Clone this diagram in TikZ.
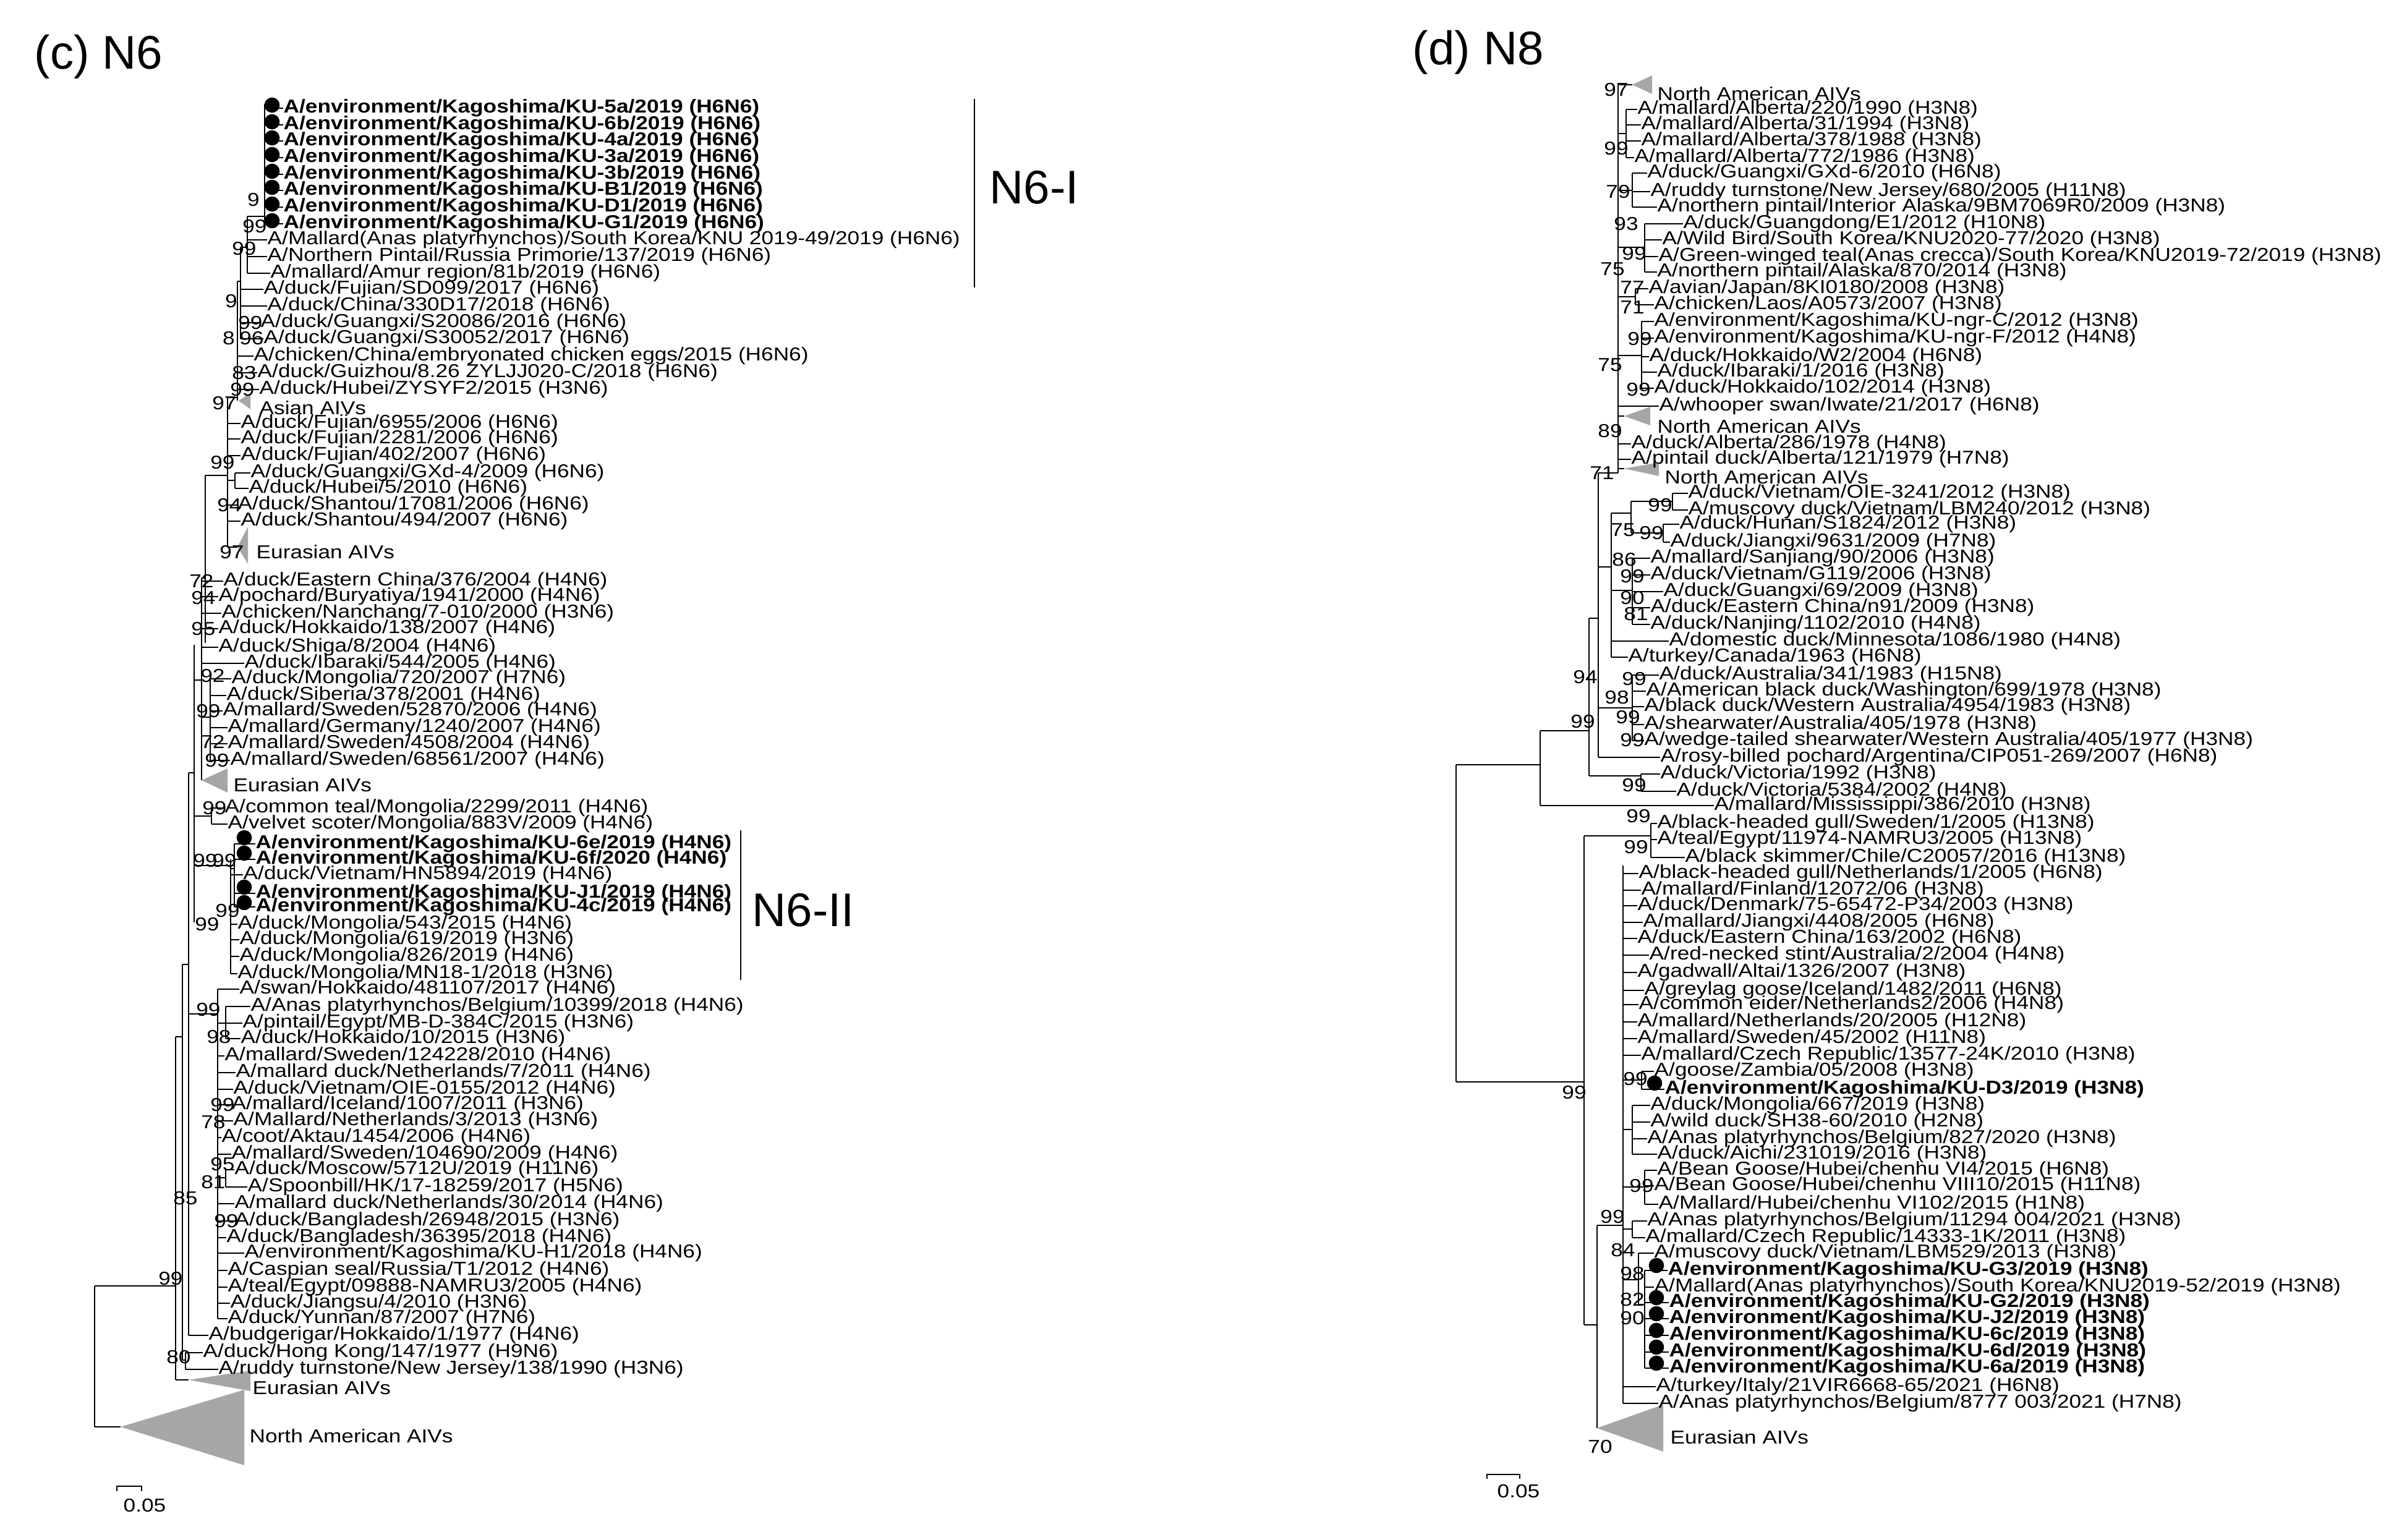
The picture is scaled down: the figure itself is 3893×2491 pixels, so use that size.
\documentclass[tikz,border=0pt]{standalone}
\usepackage{fontspec}
\setmainfont{Liberation Sans}
\newfontfamily\lbf{Liberation Sans}[FakeStretch=1.165]
\definecolor{trig}{RGB}{166,166,166}
\tikzset{
 lab/.style={font={\lbf\fontsize{8.6}{9}\selectfont}, inner sep=0pt, anchor=west},
 blab/.style={font={\lbf\bfseries\fontsize{8.6}{9}\selectfont}, inner sep=0pt, anchor=west},
 bsn/.style={font={\lbf\fontsize{8.6}{9}\selectfont}, inner sep=0pt},
 brl/.style={line width=0.7pt},
 ttl/.style={font={\fontsize{21.7}{24}\selectfont}, inner sep=0pt, anchor=west},
 tri/.style={fill=trig, draw=none},
}
\newcommand\lf[6]{\node[#5] (#1) at (#3,#4) {#6}; \draw[brl] (#2,#4) -- (#1.west);}
\newcommand\bsv[4]{\node[bsn] (#1) at (#2,#3) {#4};}
\newcommand\dt[2]{\fill (#1,#2) circle[radius=3.5pt];}
\newcommand\vl[3]{\draw[brl] (#1,#2) -- (#1,#3);}
\newcommand\hl[3]{\draw[brl] (#1,#3) -- (#2,#3);}
\begin{document}
\begin{tikzpicture}[x=0.01cm,y=-0.01cm]
\fill[white] (0,0) rectangle (3893,2491);
\useasboundingbox (0,0) rectangle (3893,2491);
% titles
\node[ttl] (tc) at (55,92) {(c) N6};
\node[ttl] (td) at (2284,85) {(d) N8};
\node[ttl] (n6i) at (1600,303) {N6-I};
\node[ttl] (n6ii) at (1216,1472) {N6-II};
\coordinate (bi1) at (1576,160); \coordinate (bi2) at (1576,465);
\draw[brl] (bi1) -- (bi2);
\coordinate (bii1) at (1198,1343); \coordinate (bii2) at (1198,1585);
\draw[brl] (bii1) -- (bii2);
% ================= N6 tree skeleton
\vl{428}{168}{367}
\hl{400}{428}{350}
\vl{400}{350}{442}
\hl{389}{400}{400}
\vl{389}{400}{548}
\hl{384}{389}{455}
\vl{384}{455}{648}
\hl{368}{384}{643}
\vl{368}{643}{885}
\hl{368}{380}{777}
\vl{380}{765}{790}
\hl{368}{384}{885}
\hl{332}{368}{769}
\vl{332}{769}{1040}
\hl{326}{332}{935}
\vl{326}{935}{1262}
\hl{326}{340}{1160}
\vl{340}{1098}{1230}
\hl{314}{326}{1100}
\vl{314}{1043}{1492}
\hl{314}{342}{1320}
\vl{342}{1307}{1333}
\hl{314}{373}{1400}
\vl{373}{1390}{1575}
\hl{373}{379}{1405}
\vl{379}{1365}{1467}
\hl{305}{314}{1250}
\vl{305}{1250}{2160}
\hl{295}{305}{1560}
\vl{295}{1560}{2200}
\hl{284}{295}{1677}
\vl{284}{1677}{2232}
\hl{284}{305}{2232}
\hl{305}{352}{1640}
\vl{352}{1600}{2133}
\hl{352}{365}{1655}
\vl{365}{1628}{1680}
\hl{352}{365}{1905}
\vl{365}{1892}{1920}
\hl{295}{300}{2200}
\vl{300}{2188}{2215}
\hl{153}{284}{2080}
\vl{153}{2080}{2308}
\hl{153}{195}{2308}
% triangles N6
\fill[tri] (386,648) -- (405,636) -- (405,662) -- cycle;
\fill[tri] (384,885) -- (401,852) -- (401,912) -- cycle;
\fill[tri] (326,1262) -- (368,1243) -- (368,1282) -- cycle;
\fill[tri] (305,2232) -- (405,2217) -- (405,2250) -- cycle;
\fill[tri] (195,2308) -- (395,2248) -- (395,2370) -- cycle;
% N6 labels
\lf{c1}{428}{458}{175}{blab}{A/environment/Kagoshima/KU-5a/2019 (H6N6)}
\lf{c2}{428}{458}{202}{blab}{A/environment/Kagoshima/KU-6b/2019 (H6N6)}
\lf{c3}{428}{458}{228}{blab}{A/environment/Kagoshima/KU-4a/2019 (H6N6)}
\lf{c4}{428}{458}{255}{blab}{A/environment/Kagoshima/KU-3a/2019 (H6N6)}
\lf{c5}{428}{458}{282}{blab}{A/environment/Kagoshima/KU-3b/2019 (H6N6)}
\lf{c6}{428}{458}{308}{blab}{A/environment/Kagoshima/KU-B1/2019 (H6N6)}
\lf{c7}{428}{458}{335}{blab}{A/environment/Kagoshima/KU-D1/2019 (H6N6)}
\lf{c8}{428}{458}{362}{blab}{A/environment/Kagoshima/KU-G1/2019 (H6N6)}
\lf{c9}{400}{432}{388}{lab}{A/Mallard(Anas platyrhynchos)/South Korea/KNU 2019-49/2019 (H6N6)}
\lf{c10}{400}{432}{415}{lab}{A/Northern Pintail/Russia Primorie/137/2019 (H6N6)}
\lf{c11}{400}{437}{442}{lab}{A/mallard/Amur region/81b/2019 (H6N6)}
\lf{c12}{389}{426}{468}{lab}{A/duck/Fujian/SD099/2017 (H6N6)}
\lf{c13}{389}{432}{495}{lab}{A/duck/China/330D17/2018 (H6N6)}
\lf{c14}{389}{421}{522}{lab}{A/duck/Guangxi/S20086/2016 (H6N6)}
\lf{c15}{389}{426}{548}{lab}{A/duck/Guangxi/S30052/2017 (H6N6)}
\lf{c16}{384}{410}{576}{lab}{A/chicken/China/embryonated chicken eggs/2015 (H6N6)}
\lf{c17}{384}{416}{603}{lab}{A/duck/Guizhou/8.26 ZYLJJ020-C/2018 (H6N6)}
\lf{c18}{384}{419}{630}{lab}{A/duck/Hubei/ZYSYF2/2015 (H3N6)}
\node[lab] (c19) at (419,660) {Asian AIVs};
\lf{c20}{368}{389}{685}{lab}{A/duck/Fujian/6955/2006 (H6N6)}
\lf{c21}{368}{389}{710}{lab}{A/duck/Fujian/2281/2006 (H6N6)}
\lf{c22}{368}{389}{737}{lab}{A/duck/Fujian/402/2007 (H6N6)}
\lf{c23}{380}{405}{765}{lab}{A/duck/Guangxi/GXd-4/2009 (H6N6)}
\lf{c24}{380}{402}{790}{lab}{A/duck/Hubei/5/2010 (H6N6)}
\lf{c25}{368}{384}{817}{lab}{A/duck/Shantou/17081/2006 (H6N6)}
\lf{c26}{368}{389}{843}{lab}{A/duck/Shantou/494/2007 (H6N6)}
\node[lab] (c27) at (414,893) {Eurasian AIVs};
\lf{c28}{326}{361}{940}{lab}{A/duck/Eastern China/376/2004 (H4N6)}
\lf{c29}{326}{353}{965}{lab}{A/pochard/Buryatiya/1941/2000 (H4N6)}
\lf{c30}{326}{358}{992}{lab}{A/chicken/Nanchang/7-010/2000 (H3N6)}
\lf{c31}{326}{353}{1017}{lab}{A/duck/Hokkaido/138/2007 (H4N6)}
\lf{c32}{326}{353}{1047}{lab}{A/duck/Shiga/8/2004 (H4N6)}
\lf{c33}{326}{395}{1073}{lab}{A/duck/Ibaraki/544/2005 (H4N6)}
\lf{c34}{340}{374}{1098}{lab}{A/duck/Mongolia/720/2007 (H7N6)}
\lf{c35}{340}{366}{1125}{lab}{A/duck/Siberia/378/2001 (H4N6)}
\lf{c36}{340}{360}{1150}{lab}{A/mallard/Sweden/52870/2006 (H4N6)}
\lf{c37}{340}{368}{1177}{lab}{A/mallard/Germany/1240/2007 (H4N6)}
\lf{c38}{340}{368}{1203}{lab}{A/mallard/Sweden/4508/2004 (H4N6)}
\lf{c39}{340}{372}{1230}{lab}{A/mallard/Sweden/68561/2007 (H4N6)}
\node[lab] (c40) at (377,1270) {Eurasian AIVs};
\lf{c41}{342}{363}{1307}{lab}{A/common teal/Mongolia/2299/2011 (H4N6)}
\lf{c42}{342}{368}{1333}{lab}{A/velvet scoter/Mongolia/883V/2009 (H4N6)}
\lf{c43}{379}{413}{1365}{blab}{A/environment/Kagoshima/KU-6e/2019 (H4N6)}
\lf{c44}{379}{413}{1390}{blab}{A/environment/Kagoshima/KU-6f/2020 (H4N6)}
\lf{c45}{373}{393}{1415}{lab}{A/duck/Vietnam/HN5894/2019 (H4N6)}
\lf{c46}{379}{413}{1445}{blab}{A/environment/Kagoshima/KU-J1/2019 (H4N6)}
\lf{c47}{379}{413}{1467}{blab}{A/environment/Kagoshima/KU-4c/2019 (H4N6)}
\lf{c48}{373}{384}{1495}{lab}{A/duck/Mongolia/543/2015 (H4N6)}
\lf{c49}{373}{387}{1520}{lab}{A/duck/Mongolia/619/2019 (H3N6)}
\lf{c50}{373}{387}{1547}{lab}{A/duck/Mongolia/826/2019 (H4N6)}
\lf{c51}{373}{384}{1575}{lab}{A/duck/Mongolia/MN18-1/2018 (H3N6)}
\lf{c52}{352}{387}{1600}{lab}{A/swan/Hokkaido/481107/2017 (H4N6)}
\lf{c53}{365}{405}{1628}{lab}{A/Anas platyrhynchos/Belgium/10399/2018 (H4N6)}
\lf{c54}{365}{392}{1655}{lab}{A/pintail/Egypt/MB-D-384C/2015 (H3N6)}
\lf{c55}{365}{389}{1680}{lab}{A/duck/Hokkaido/10/2015 (H3N6)}
\lf{c56}{352}{363}{1708}{lab}{A/mallard/Sweden/124228/2010 (H4N6)}
\lf{c57}{352}{381}{1735}{lab}{A/mallard duck/Netherlands/7/2011 (H4N6)}
\lf{c58}{352}{377}{1762}{lab}{A/duck/Vietnam/OIE-0155/2012 (H4N6)}
\lf{c59}{352}{374}{1787}{lab}{A/mallard/Iceland/1007/2011 (H3N6)}
\lf{c60}{352}{377}{1813}{lab}{A/Mallard/Netherlands/3/2013 (H3N6)}
\lf{c61}{352}{358}{1840}{lab}{A/coot/Aktau/1454/2006 (H4N6)}
\lf{c62}{352}{374}{1867}{lab}{A/mallard/Sweden/104690/2009 (H4N6)}
\lf{c63}{365}{379}{1892}{lab}{A/duck/Moscow/5712U/2019 (H11N6)}
\lf{c64}{365}{400}{1920}{lab}{A/Spoonbill/HK/17-18259/2017 (H5N6)}
\lf{c65}{352}{379}{1947}{lab}{A/mallard duck/Netherlands/30/2014 (H4N6)}
\lf{c66}{352}{379}{1975}{lab}{A/duck/Bangladesh/26948/2015 (H3N6)}
\lf{c67}{352}{366}{2002}{lab}{A/duck/Bangladesh/36395/2018 (H4N6)}
\lf{c68}{352}{395}{2027}{lab}{A/environment/Kagoshima/KU-H1/2018 (H4N6)}
\lf{c69}{352}{368}{2055}{lab}{A/Caspian seal/Russia/T1/2012 (H4N6)}
\lf{c70}{352}{368}{2082}{lab}{A/teal/Egypt/09888-NAMRU3/2005 (H4N6)}
\lf{c71}{352}{372}{2108}{lab}{A/duck/Jiangsu/4/2010 (H3N6)}
\lf{c72}{352}{368}{2133}{lab}{A/duck/Yunnan/87/2007 (H7N6)}
\lf{c73}{305}{337}{2160}{lab}{A/budgerigar/Hokkaido/1/1977 (H4N6)}
\lf{c74}{300}{328}{2188}{lab}{A/duck/Hong Kong/147/1977 (H9N6)}
\lf{c75}{300}{353}{2215}{lab}{A/ruddy turnstone/New Jersey/138/1990 (H3N6)}
\node[lab] (c76) at (408,2245) {Eurasian AIVs};
\node[lab] (c77) at (403,2323) {North American AIVs};
% N6 dots
\foreach \yy in {170,197,223,250,277,303,330,357} {\dt{440}{\yy}}
\dt{395}{1355}\dt{395}{1380}\dt{395}{1435}\dt{395}{1460}
% N6 bootstrap
\bsv{b1}{410}{323}{9}
\bsv{b2}{412}{366}{99}
\bsv{b3}{395}{402}{99}
\bsv{b4}{374}{487}{9}
\bsv{b5}{405}{522}{99}
\bsv{b6}{370}{547}{8}
\bsv{b7}{407}{547}{96}
\bsv{b8}{395}{603}{83}
\bsv{b9}{392}{630}{99}
\bsv{b10}{363}{652}{97}
\bsv{b11}{360}{748}{99}
\bsv{b12}{371}{817}{94}
\bsv{b13}{375}{893}{97}
\bsv{b14}{326}{940}{72}
\bsv{b15}{329}{967}{94}
\bsv{b16}{329}{1017}{95}
\bsv{b17}{344}{1093}{92}
\bsv{b18}{337}{1150}{99}
\bsv{b19}{344}{1200}{72}
\bsv{b20}{351}{1230}{99}
\bsv{b21}{347}{1307}{99}
\bsv{b22}{332}{1392}{99}
\bsv{b23}{363}{1392}{99}
\bsv{b24}{368}{1473}{99}
\bsv{b25}{335}{1495}{99}
\bsv{b26}{337}{1633}{99}
\bsv{b27}{354}{1677}{98}
\bsv{b28}{360}{1787}{99}
\bsv{b29}{345}{1815}{78}
\bsv{b30}{360}{1883}{95}
\bsv{b31}{345}{1912}{81}
\bsv{b32}{300}{1938}{85}
\bsv{b33}{366}{1975}{99}
\bsv{b34}{276}{2068}{99}
\bsv{b35}{289}{2195}{80}
% N6 scale bar
\coordinate (sa1) at (189,2412); \coordinate (sa2) at (229,2412);
\draw[brl] (sa1) -- ++(0,-8) -| (sa2);
\node[bsn] (s1) at (234,2435) {0.05};
% ================= N8 tree skeleton
\vl{2617}{137}{765}
\hl{2617}{2640}{137}
\hl{2617}{2630}{216}\vl{2630}{177}{255}
\hl{2617}{2640}{308}\vl{2640}{280}{335}
\hl{2617}{2660}{400}\vl{2660}{362}{440}
\hl{2617}{2645}{480}\vl{2645}{467}{493}
\hl{2617}{2655}{575}\vl{2655}{520}{628}
\hl{2617}{2627}{673}
\hl{2617}{2627}{758}
\hl{2585}{2617}{765}
\vl{2585}{765}{1225}
\hl{2585}{2606}{917}\vl{2606}{830}{1063}
\hl{2606}{2638}{830}\vl{2638}{811}{862}
\hl{2638}{2705}{811}\vl{2705}{798}{825}
\hl{2638}{2690}{862}\vl{2690}{848}{877}
\hl{2606}{2640}{955}\vl{2640}{903}{1010}
\hl{2585}{2640}{1145}\vl{2640}{1092}{1198}
\hl{2570}{2585}{1000}\vl{2570}{1000}{1255}
\hl{2570}{2654}{1255}\vl{2654}{1252}{1280}
\hl{2491}{2570}{1182}\vl{2491}{1182}{1303}
\hl{2355}{2491}{1237}
\vl{2355}{1237}{1750}
\hl{2355}{2562}{1750}
\vl{2562}{1352}{2143}
\hl{2562}{2670}{1352}\vl{2670}{1332}{1387}
\hl{2583}{2625}{1982}\vl{2625}{1400}{2270}
\vl{2583}{1982}{2310}\hl{2562}{2583}{2143}
\hl{2625}{2655}{1747}\vl{2655}{1733}{1762}
\hl{2625}{2640}{1827}\vl{2640}{1788}{1867}
\hl{2625}{2660}{1920}\vl{2660}{1893}{1948}
\hl{2625}{2640}{1988}\vl{2640}{1975}{2002}
\hl{2625}{2650}{2070}\vl{2650}{2027}{2110}
\hl{2650}{2660}{2110}\vl{2660}{2055}{2213}
% triangles N8
\fill[tri] (2640,137) -- (2672,122) -- (2672,152) -- cycle;
\fill[tri] (2627,673) -- (2669,658) -- (2669,688) -- cycle;
\fill[tri] (2627,758) -- (2683,748) -- (2683,770) -- cycle;
\fill[tri] (2583,2310) -- (2690,2272) -- (2690,2348) -- cycle;
% N8 labels
\node[lab] (d1) at (2680,152) {North American AIVs};
\lf{d2}{2630}{2648}{177}{lab}{A/mallard/Alberta/220/1990 (H3N8)}
\lf{d3}{2630}{2654}{202}{lab}{A/mallard/Alberta/31/1994 (H3N8)}
\lf{d4}{2630}{2654}{228}{lab}{A/mallard/Alberta/378/1988 (H3N8)}
\lf{d5}{2630}{2643}{255}{lab}{A/mallard/Alberta/772/1986 (H3N8)}
\lf{d6}{2640}{2664}{280}{lab}{A/duck/Guangxi/GXd-6/2010 (H6N8)}
\lf{d7}{2640}{2669}{310}{lab}{A/ruddy turnstone/New Jersey/680/2005 (H11N8)}
\lf{d8}{2640}{2680}{335}{lab}{A/northern pintail/Interior Alaska/9BM7069R0/2009 (H3N8)}
\lf{d9}{2660}{2722}{362}{lab}{A/duck/Guangdong/E1/2012 (H10N8)}
\lf{d10}{2660}{2688}{388}{lab}{A/Wild Bird/South Korea/KNU2020-77/2020 (H3N8)}
\lf{d11}{2660}{2682}{415}{lab}{A/Green-winged teal(Anas crecca)/South Korea/KNU2019-72/2019 (H3N8)}
\lf{d12}{2660}{2680}{440}{lab}{A/northern pintail/Alaska/870/2014 (H3N8)}
\lf{d13}{2645}{2666}{467}{lab}{A/avian/Japan/8KI0180/2008 (H3N8)}
\lf{d14}{2645}{2675}{493}{lab}{A/chicken/Laos/A0573/2007 (H3N8)}
\lf{d15}{2655}{2675}{520}{lab}{A/environment/Kagoshima/KU-ngr-C/2012 (H3N8)}
\lf{d16}{2655}{2675}{547}{lab}{A/environment/Kagoshima/KU-ngr-F/2012 (H4N8)}
\lf{d17}{2655}{2667}{577}{lab}{A/duck/Hokkaido/W2/2004 (H6N8)}
\lf{d18}{2655}{2680}{602}{lab}{A/duck/Ibaraki/1/2016 (H3N8)}
\lf{d19}{2655}{2675}{628}{lab}{A/duck/Hokkaido/102/2014 (H3N8)}
\lf{d20}{2617}{2683}{657}{lab}{A/whooper swan/Iwate/21/2017 (H6N8)}
\node[lab] (d21) at (2680,690) {North American AIVs};
\lf{d22}{2617}{2638}{718}{lab}{A/duck/Alberta/286/1978 (H4N8)}
\lf{d23}{2617}{2638}{743}{lab}{A/pintail duck/Alberta/121/1979 (H7N8)}
\node[lab] (d24) at (2692,772) {North American AIVs};
\lf{d25}{2705}{2730}{798}{lab}{A/duck/Vietnam/OIE-3241/2012 (H3N8)}
\lf{d26}{2705}{2730}{825}{lab}{A/muscovy duck/Vietnam/LBM240/2012 (H3N8)}
\lf{d27}{2690}{2716}{848}{lab}{A/duck/Hunan/S1824/2012 (H3N8)}
\lf{d28}{2690}{2701}{877}{lab}{A/duck/Jiangxi/9631/2009 (H7N8)}
\lf{d29}{2640}{2669}{903}{lab}{A/mallard/Sanjiang/90/2006 (H3N8)}
\lf{d30}{2640}{2669}{930}{lab}{A/duck/Vietnam/G119/2006 (H3N8)}
\lf{d31}{2640}{2690}{957}{lab}{A/duck/Guangxi/69/2009 (H3N8)}
\lf{d32}{2640}{2669}{983}{lab}{A/duck/Eastern China/n91/2009 (H3N8)}
\lf{d33}{2640}{2669}{1010}{lab}{A/duck/Nanjing/1102/2010 (H4N8)}
\lf{d34}{2606}{2699}{1037}{lab}{A/domestic duck/Minnesota/1086/1980 (H4N8)}
\lf{d35}{2606}{2633}{1063}{lab}{A/turkey/Canada/1963 (H6N8)}
\lf{d36}{2640}{2683}{1092}{lab}{A/duck/Australia/341/1983 (H15N8)}
\lf{d37}{2640}{2662}{1118}{lab}{A/American black duck/Washington/699/1978 (H3N8)}
\lf{d38}{2640}{2659}{1143}{lab}{A/black duck/Western Australia/4954/1983 (H3N8)}
\lf{d39}{2640}{2659}{1172}{lab}{A/shearwater/Australia/405/1978 (H3N8)}
\lf{d40}{2640}{2659}{1198}{lab}{A/wedge-tailed shearwater/Western Australia/405/1977 (H3N8)}
\lf{d41}{2585}{2685}{1225}{lab}{A/rosy-billed pochard/Argentina/CIP051-269/2007 (H6N8)}
\lf{d42}{2654}{2685}{1252}{lab}{A/duck/Victoria/1992 (H3N8)}
\lf{d43}{2654}{2711}{1280}{lab}{A/duck/Victoria/5384/2002 (H4N8)}
\lf{d44}{2491}{2772}{1303}{lab}{A/mallard/Mississippi/386/2010 (H3N8)}
\lf{d45}{2670}{2680}{1332}{lab}{A/black-headed gull/Sweden/1/2005 (H13N8)}
\lf{d46}{2670}{2680}{1358}{lab}{A/teal/Egypt/11974-NAMRU3/2005 (H13N8)}
\lf{d47}{2670}{2725}{1387}{lab}{A/black skimmer/Chile/C20057/2016 (H13N8)}
\lf{d48}{2625}{2650}{1413}{lab}{A/black-headed gull/Netherlands/1/2005 (H6N8)}
\lf{d49}{2625}{2654}{1440}{lab}{A/mallard/Finland/12072/06 (H3N8)}
\lf{d50}{2625}{2648}{1465}{lab}{A/duck/Denmark/75-65472-P34/2003 (H3N8)}
\lf{d51}{2625}{2657}{1492}{lab}{A/mallard/Jiangxi/4408/2005 (H6N8)}
\lf{d52}{2625}{2648}{1518}{lab}{A/duck/Eastern China/163/2002 (H6N8)}
\lf{d53}{2625}{2667}{1545}{lab}{A/red-necked stint/Australia/2/2004 (H4N8)}
\lf{d54}{2625}{2648}{1573}{lab}{A/gadwall/Altai/1326/2007 (H3N8)}
\lf{d55}{2625}{2659}{1602}{lab}{A/greylag goose/Iceland/1482/2011 (H6N8)}
\lf{d56}{2625}{2650}{1625}{lab}{A/common eider/Netherlands2/2006 (H4N8)}
\lf{d57}{2625}{2648}{1653}{lab}{A/mallard/Netherlands/20/2005 (H12N8)}
\lf{d58}{2625}{2648}{1680}{lab}{A/mallard/Sweden/45/2002 (H11N8)}
\lf{d59}{2625}{2654}{1707}{lab}{A/mallard/Czech Republic/13577-24K/2010 (H3N8)}
\lf{d60}{2655}{2675}{1733}{lab}{A/goose/Zambia/05/2008 (H3N8)}
\lf{d61}{2655}{2692}{1762}{blab}{A/environment/Kagoshima/KU-D3/2019 (H3N8)}
\lf{d62}{2640}{2669}{1788}{lab}{A/duck/Mongolia/667/2019 (H3N8)}
\lf{d63}{2640}{2669}{1815}{lab}{A/wild duck/SH38-60/2010 (H2N8)}
\lf{d64}{2640}{2664}{1842}{lab}{A/Anas platyrhynchos/Belgium/827/2020 (H3N8)}
\lf{d65}{2640}{2680}{1867}{lab}{A/duck/Aichi/231019/2016 (H3N8)}
\lf{d66}{2660}{2680}{1893}{lab}{A/Bean Goose/Hubei/chenhu VI4/2015 (H6N8)}
\lf{d67}{2660}{2675}{1918}{lab}{A/Bean Goose/Hubei/chenhu VIII10/2015 (H11N8)}
\lf{d68}{2660}{2682}{1948}{lab}{A/Mallard/Hubei/chenhu VI102/2015 (H1N8)}
\lf{d69}{2640}{2664}{1975}{lab}{A/Anas platyrhynchos/Belgium/11294 004/2021 (H3N8)}
\lf{d70}{2640}{2661}{2002}{lab}{A/mallard/Czech Republic/14333-1K/2011 (H3N8)}
\lf{d71}{2650}{2675}{2027}{lab}{A/muscovy duck/Vietnam/LBM529/2013 (H3N8)}
\lf{d72}{2660}{2697}{2055}{blab}{A/environment/Kagoshima/KU-G3/2019 (H3N8)}
\lf{d73}{2660}{2675}{2082}{lab}{A/Mallard(Anas platyrhynchos)/South Korea/KNU2019-52/2019 (H3N8)}
\lf{d74}{2660}{2699}{2107}{blab}{A/environment/Kagoshima/KU-G2/2019 (H3N8)}
\lf{d75}{2660}{2699}{2133}{blab}{A/environment/Kagoshima/KU-J2/2019 (H3N8)}
\lf{d76}{2660}{2699}{2160}{blab}{A/environment/Kagoshima/KU-6c/2019 (H3N8)}
\lf{d77}{2660}{2699}{2187}{blab}{A/environment/Kagoshima/KU-6d/2019 (H3N8)}
\lf{d78}{2660}{2699}{2213}{blab}{A/environment/Kagoshima/KU-6a/2019 (H3N8)}
\lf{d79}{2625}{2678}{2243}{lab}{A/turkey/Italy/21VIR6668-65/2021 (H6N8)}
\lf{d80}{2625}{2682}{2270}{lab}{A/Anas platyrhynchos/Belgium/8777 003/2021 (H7N8)}
\node[lab] (d81) at (2701,2325) {Eurasian AIVs};
% N8 dots
\dt{2676}{1752}
\foreach \yy in {2047,2099,2125,2152,2179,2205} {\dt{2679}{\yy}}
% N8 bootstrap
\bsv{e1}{2614}{145}{97}
\bsv{e2}{2614}{240}{99}
\bsv{e3}{2617}{310}{79}
\bsv{e4}{2630}{362}{93}
\bsv{e5}{2643}{410}{99}
\bsv{e6}{2608}{435}{75}
\bsv{e7}{2640}{465}{77}
\bsv{e8}{2640}{497}{71}
\bsv{e9}{2652}{548}{99}
\bsv{e10}{2604}{590}{75}
\bsv{e11}{2650}{630}{99}
\bsv{e12}{2604}{697}{89}
\bsv{e13}{2591}{765}{71}
\bsv{e14}{2685}{817}{99}
\bsv{e15}{2625}{857}{75}
\bsv{e16}{2671}{862}{99}
\bsv{e17}{2627}{905}{86}
\bsv{e18}{2640}{932}{99}
\bsv{e19}{2640}{967}{90}
\bsv{e20}{2646}{993}{81}
\bsv{e21}{2564}{1095}{94}
\bsv{e22}{2643}{1098}{99}
\bsv{e23}{2615}{1128}{98}
\bsv{e24}{2560}{1167}{99}
\bsv{e25}{2633}{1160}{99}
\bsv{e26}{2640}{1197}{99}
\bsv{e27}{2643}{1270}{99}
\bsv{e28}{2650}{1320}{99}
\bsv{e29}{2646}{1370}{99}
\bsv{e30}{2645}{1745}{99}
\bsv{e31}{2546}{1767}{99}
\bsv{e32}{2655}{1918}{99}
\bsv{e33}{2608}{1968}{99}
\bsv{e34}{2625}{2022}{84}
\bsv{e35}{2640}{2060}{98}
\bsv{e36}{2640}{2102}{82}
\bsv{e37}{2640}{2132}{90}
\bsv{e38}{2588}{2340}{70}
% N8 scale bar
\coordinate (sb1) at (2405,2392); \coordinate (sb2) at (2458,2392);
\draw[brl] (sb1) -- ++(0,-7) -| (sb2);
\node[bsn] (s2) at (2456,2412) {0.05};
\end{tikzpicture}
\end{document}
